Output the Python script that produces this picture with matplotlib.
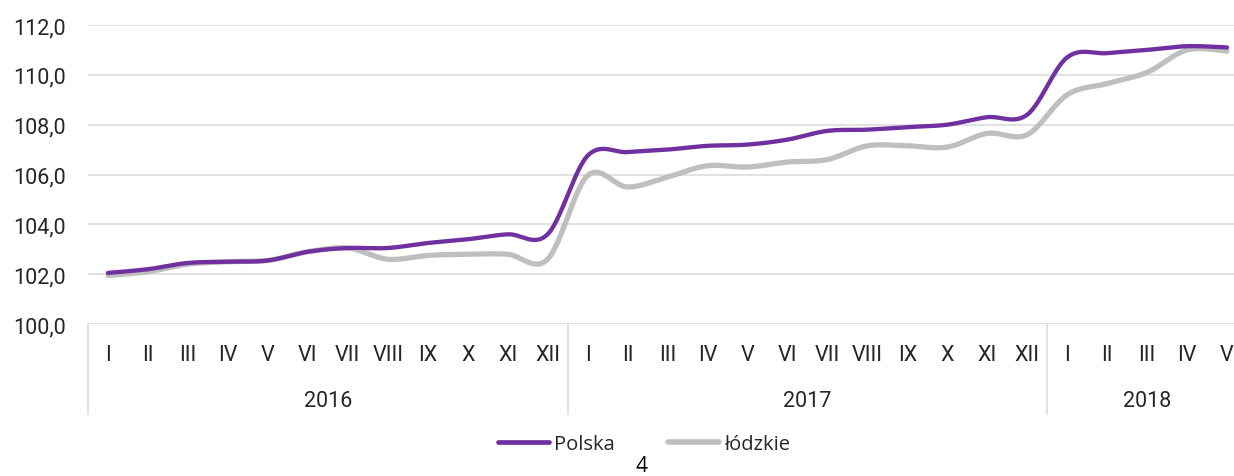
import numpy as np
import matplotlib
matplotlib.use("Agg")
import matplotlib.pyplot as plt
from matplotlib.lines import Line2D
from matplotlib.ticker import FuncFormatter
import matplotlib.transforms as mtransforms

months = ["I", "II", "III", "IV", "V", "VI", "VII", "VIII", "IX", "X", "XI", "XII",
          "I", "II", "III", "IV", "V", "VI", "VII", "VIII", "IX", "X", "XI", "XII",
          "I", "II", "III", "IV", "V"]
years = ["2016", "2017", "2018"]
year_counts = [12, 12, 5]

polska = [102.05, 102.2, 102.45, 102.5, 102.55, 102.9, 103.05, 103.05, 103.25, 103.4, 103.6, 103.6,
          106.75, 106.9, 107.0, 107.15, 107.2, 107.4, 107.75, 107.8, 107.9, 108.0, 108.3, 108.4,
          110.7, 110.87, 111.0, 111.15, 111.1]
lodzkie = [101.95, 102.1, 102.4, 102.5, 102.55, 102.9, 103.05, 102.6, 102.75, 102.8, 102.8, 102.6,
           105.95, 105.5, 105.9, 106.35, 106.3, 106.5, 106.6, 107.15, 107.15, 107.1, 107.65, 107.6,
           109.2, 109.65, 110.1, 111.0, 110.95]

series_names = ["Polska", "łódzkie"]
series_colors = ["#7030A0", "#BFBFBF"]
yticks = [100, 102, 104, 106, 108, 110, 112]

TICK_FONT = ["Roboto", "DejaVu Sans"]
LEG_FONT = ["Open Sans", "DejaVu Sans"]
TXT = "#262626"


def smooth(y, n=30):
    """Excel-like smoothed line (cubic Bezier through the data points)."""
    x = np.arange(len(y), dtype=float)
    y = np.asarray(y, dtype=float)
    pts = np.column_stack([x, y])
    out = []
    for i in range(len(pts) - 1):
        p0 = pts[i - 1] if i > 0 else pts[i]
        p1 = pts[i]
        p2 = pts[i + 1]
        p3 = pts[i + 2] if i + 2 < len(pts) else pts[i + 1]
        c1 = p1 + (p2 - p0) / 6.0
        c2 = p2 - (p3 - p1) / 6.0
        t = np.linspace(0, 1, n, endpoint=(i == len(pts) - 2))[:, None]
        seg = ((1 - t) ** 3) * p1 + 3 * ((1 - t) ** 2) * t * c1 + 3 * (1 - t) * t ** 2 * c2 + t ** 3 * p2
        out.append(seg)
    out = np.vstack(out)
    return out[:, 0], out[:, 1]


W, H = 1234, 477
fig = plt.figure(figsize=(W / 100, H / 100), dpi=100)
left, right, top, bottom = 88, 1247, 26, 325
ax = fig.add_axes([left / W, 1 - bottom / H, (right - left) / W, (bottom - top) / H])

n = len(months)
ax.set_xlim(-0.5, n - 0.5)
ax.set_ylim(100, 112)

xs, ys = smooth(lodzkie)
ax.plot(xs, ys, color=series_colors[1], lw=3.8, solid_capstyle="round", zorder=3)
xs, ys = smooth(polska)
ax.plot(xs, ys, color=series_colors[0], lw=3.1, solid_capstyle="round", zorder=4)

ax.set_yticks(yticks)
ax.yaxis.set_major_formatter(FuncFormatter(lambda v, p: f"{v:.1f}".replace(".", ",")))
ax.tick_params(axis="y", length=0, pad=16, labelsize=15.5, labelcolor=TXT)
for lab in ax.get_yticklabels():
    lab.set_family(TICK_FONT)
ax.grid(axis="y", color="#D9D9D9", lw=1.1)
ax.set_axisbelow(True)
ax.set_xticks([])
for sp in ax.spines.values():
    sp.set_visible(False)

trans = mtransforms.blended_transform_factory(ax.transData, ax.transAxes)
for i, m in enumerate(months):
    ax.text(i, -0.102, m, transform=trans, ha="center", va="center",
            fontsize=15.5, family=TICK_FONT, color=TXT)
start = 0
bounds = [-0.5]
for yname, cnt in zip(years, year_counts):
    center = start + (cnt - 1) / 2
    ax.text(center, -0.2575, yname, transform=trans, ha="center", va="center",
            fontsize=15.5, family=TICK_FONT, color=TXT)
    start += cnt
    bounds.append(start - 0.5)
for b in bounds:
    ax.add_line(Line2D([b, b], [0, -0.301], transform=trans, color="#D9D9D9",
                       lw=1.1, clip_on=False))

handles = [Line2D([], [], color=series_colors[0], lw=3.4, solid_capstyle="round"),
           Line2D([], [], color=series_colors[1], lw=4.0, solid_capstyle="round")]
leg = fig.legend(handles, series_names, loc="center", bbox_to_anchor=(644 / W, 1 - 445 / H),
                 ncol=2, frameon=False, handlelength=2.55, handletextpad=0.25, columnspacing=2.6,
                 prop={"family": LEG_FONT, "size": 14.5})
for t in leg.get_texts():
    t.set_color(TXT)

fig.text(641 / W, 1 - 472 / H, "4", ha="center", va="baseline", fontsize=15,
         family=LEG_FONT, color="#000000")

fig.savefig("out.png", dpi=100)
